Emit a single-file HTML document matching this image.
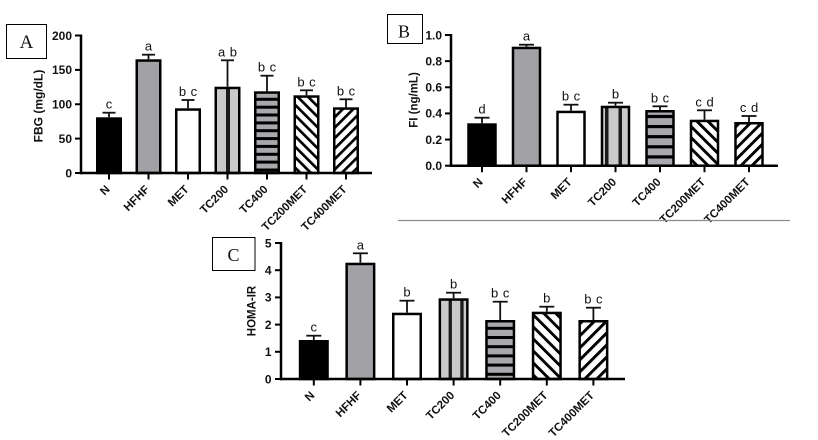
<!DOCTYPE html>
<html>
<head>
<meta charset="utf-8">
<style>
  html, body { margin: 0; padding: 0; background: #ffffff; }
  svg { display: block; }
  text { font-family: "Liberation Sans", Arial, sans-serif; fill: #111; }
  .tk { font-size: 12px; font-weight: bold; text-anchor: end; }
  .xl { font-size: 11.5px; font-weight: bold; text-anchor: end; }
  .yl { font-size: 12px; font-weight: bold; text-anchor: middle; }
  .sig { font-size: 13px; text-anchor: middle; word-spacing: 1px; }
  .box { font-family: "Liberation Serif", "Times New Roman", serif; font-size: 18px; text-anchor: middle; }
  .ax { stroke: #000; stroke-width: 2.5; fill: none; }
  .tc { stroke: #000; stroke-width: 2; }
  .bar { stroke: #000; stroke-width: 2.5; fill: none; }
  .eb { stroke: #111; stroke-width: 1.8; }
</style>
</head>
<body>
<svg width="818" height="440" viewBox="0 0 818 440" xmlns="http://www.w3.org/2000/svg">
  <defs>
    <pattern id="pAbs" patternUnits="userSpaceOnUse" width="7.4" height="10" patternTransform="rotate(-45)">
      <rect x="0" y="0" width="2.7" height="10" fill="#000"/>
    </pattern>
    <pattern id="pAfs" patternUnits="userSpaceOnUse" width="7.4" height="10" patternTransform="rotate(45)">
      <rect x="0" y="0" width="2.7" height="10" fill="#000"/>
    </pattern>
    <pattern id="pBbs" patternUnits="userSpaceOnUse" width="7.8" height="10" patternTransform="rotate(-45)">
      <rect x="0" y="0" width="2.9" height="10" fill="#000"/>
    </pattern>
    <pattern id="pBfs" patternUnits="userSpaceOnUse" width="7.8" height="10" patternTransform="rotate(45)">
      <rect x="0" y="0" width="2.9" height="10" fill="#000"/>
    </pattern>
    <pattern id="pCbs" patternUnits="userSpaceOnUse" width="8.5" height="10" patternTransform="rotate(-45)">
      <rect x="0" y="0" width="2.9" height="10" fill="#000"/>
    </pattern>
    <pattern id="pCfs" patternUnits="userSpaceOnUse" width="8.5" height="10" patternTransform="rotate(45)">
      <rect x="0" y="0" width="2.9" height="10" fill="#000"/>
    </pattern>
  </defs>

  <rect x="0" y="0" width="818" height="440" fill="#fff"/>

  <!-- ================= PANEL A ================= -->
  <rect x="6.5" y="24.5" width="40" height="34" fill="#fff" stroke="#000" stroke-width="1"/>
  <text class="box" x="26.5" y="48" style="font-size:19px">A</text>

  <text class="yl" transform="translate(42.3,106) rotate(-90)">FBG (mg/dL)</text>

  <line class="tc" x1="75" y1="173" x2="81" y2="173"/>
  <line class="tc" x1="75" y1="138.6" x2="81" y2="138.6"/>
  <line class="tc" x1="75" y1="104.25" x2="81" y2="104.25"/>
  <line class="tc" x1="75" y1="69.9" x2="81" y2="69.9"/>
  <line class="tc" x1="75" y1="35.5" x2="81" y2="35.5"/>
  <text class="tk" x="72" y="177.3">0</text>
  <text class="tk" x="72" y="142.9">50</text>
  <text class="tk" x="72" y="108.5">100</text>
  <text class="tk" x="72" y="74.2">150</text>
  <text class="tk" x="72" y="39.8">200</text>

  <rect x="97.25" y="118.55" width="23.5" height="54.45" fill="#000"/>
  <rect class="bar" x="97.25" y="118.55" width="23.5" height="54.45"/>
  <rect x="136.75" y="60.55" width="23.5" height="112.45" fill="#a2a2a6"/>
  <rect class="bar" x="136.75" y="60.55" width="23.5" height="112.45"/>
  <rect x="176.25" y="109.55" width="23.5" height="63.45" fill="#fff"/>
  <rect class="bar" x="176.25" y="109.55" width="23.5" height="63.45"/>
  <rect x="215.75" y="87.95" width="23.5" height="85.05" fill="#cacaca"/>
  <rect x="226" y="87.95" width="4" height="85.05" fill="#1a1a1a"/>
  <rect class="bar" x="215.75" y="87.95" width="23.5" height="85.05"/>
  <rect x="255.25" y="92.55" width="23.5" height="80.45" fill="#a9a9ad"/>
  <g fill="#000">
    <rect x="255.25" y="97.8" width="23.5" height="3"/>
    <rect x="255.25" y="105.7" width="23.5" height="3"/>
    <rect x="255.25" y="113.5" width="23.5" height="3"/>
    <rect x="255.25" y="121.4" width="23.5" height="3"/>
    <rect x="255.25" y="129.2" width="23.5" height="3"/>
    <rect x="255.25" y="137.1" width="23.5" height="3"/>
    <rect x="255.25" y="144.9" width="23.5" height="3"/>
    <rect x="255.25" y="152.8" width="23.5" height="3"/>
    <rect x="255.25" y="160.6" width="23.5" height="3"/>
    <rect x="255.25" y="168.5" width="23.5" height="3"/>
  </g>
  <rect class="bar" x="255.25" y="92.55" width="23.5" height="80.45"/>
  <rect x="294.75" y="96.55" width="23.5" height="76.45" fill="#fff"/>
  <rect x="294.75" y="96.55" width="23.5" height="76.45" fill="url(#pAbs)"/>
  <rect class="bar" x="294.75" y="96.55" width="23.5" height="76.45"/>
  <rect x="334.25" y="108.55" width="23.5" height="64.45" fill="#fff"/>
  <rect x="334.25" y="108.55" width="23.5" height="64.45" fill="url(#pAfs)"/>
  <rect class="bar" x="334.25" y="108.55" width="23.5" height="64.45"/>

  <g class="eb">
    <line x1="109" y1="117.3" x2="109" y2="112.7"/><line x1="102.5" y1="112.7" x2="115.5" y2="112.7"/>
    <line x1="148.5" y1="59.3" x2="148.5" y2="54.7"/><line x1="142" y1="54.7" x2="155" y2="54.7"/>
    <line x1="188" y1="108.3" x2="188" y2="100"/><line x1="181.5" y1="100" x2="194.5" y2="100"/>
    <line x1="227.5" y1="86.7" x2="227.5" y2="60.3"/><line x1="221" y1="60.3" x2="234" y2="60.3"/>
    <line x1="267" y1="91.3" x2="267" y2="75.7"/><line x1="260.5" y1="75.7" x2="273.5" y2="75.7"/>
    <line x1="306.5" y1="95.3" x2="306.5" y2="90.3"/><line x1="300" y1="90.3" x2="313" y2="90.3"/>
    <line x1="346" y1="107.3" x2="346" y2="99.3"/><line x1="339.5" y1="99.3" x2="352.5" y2="99.3"/>
  </g>
  <text class="sig" x="109" y="108.7">c</text>
  <text class="sig" x="148.5" y="50.7">a</text>
  <text class="sig" x="188" y="96">b c</text>
  <text class="sig" x="227.5" y="56.3">a b</text>
  <text class="sig" x="267" y="71.7">b c</text>
  <text class="sig" x="306.5" y="86.3">b c</text>
  <text class="sig" x="346" y="95.3">b c</text>

  <line class="ax" x1="81" y1="34.5" x2="81" y2="174.2"/>
  <line class="ax" x1="79.8" y1="173" x2="372" y2="173"/>
  <g class="tc">
    <line x1="109" y1="173" x2="109" y2="179.5"/>
    <line x1="148.5" y1="173" x2="148.5" y2="179.5"/>
    <line x1="188" y1="173" x2="188" y2="179.5"/>
    <line x1="227.5" y1="173" x2="227.5" y2="179.5"/>
    <line x1="267" y1="173" x2="267" y2="179.5"/>
    <line x1="306.5" y1="173" x2="306.5" y2="179.5"/>
    <line x1="346" y1="173" x2="346" y2="179.5"/>
  </g>
  <text class="xl" transform="rotate(-45 110.5 190)" x="110.5" y="190">N</text>
  <text class="xl" transform="rotate(-45 150 190)" x="150" y="190">HFHF</text>
  <text class="xl" transform="rotate(-45 189.5 190)" x="189.5" y="190">MET</text>
  <text class="xl" transform="rotate(-45 229 190)" x="229" y="190">TC200</text>
  <text class="xl" transform="rotate(-45 268.5 190)" x="268.5" y="190">TC400</text>
  <text class="xl" transform="rotate(-45 308 190)" x="308" y="190">TC200MET</text>
  <text class="xl" transform="rotate(-45 347.5 190)" x="347.5" y="190">TC400MET</text>

  <!-- ================= PANEL B ================= -->
  <rect x="387.5" y="14.5" width="35" height="29" fill="#fff" stroke="#000" stroke-width="1"/>
  <text class="box" x="404" y="37.5">B</text>

  <text class="yl" style="font-size:11.5px" transform="translate(417.3,100) rotate(-90)">FI (ng/mL)</text>

  <line class="tc" x1="445" y1="165.7" x2="451" y2="165.7"/>
  <line class="tc" x1="445" y1="139.56" x2="451" y2="139.56"/>
  <line class="tc" x1="445" y1="113.42" x2="451" y2="113.42"/>
  <line class="tc" x1="445" y1="87.28" x2="451" y2="87.28"/>
  <line class="tc" x1="445" y1="61.14" x2="451" y2="61.14"/>
  <line class="tc" x1="445" y1="35" x2="451" y2="35"/>
  <text class="tk" x="442" y="170">0.0</text>
  <text class="tk" x="442" y="143.9">0.2</text>
  <text class="tk" x="442" y="117.7">0.4</text>
  <text class="tk" x="442" y="91.6">0.6</text>
  <text class="tk" x="442" y="65.4">0.8</text>
  <text class="tk" x="442" y="39.3">1.0</text>

  <rect x="468.5" y="124.55" width="27" height="41.15" fill="#000"/>
  <rect class="bar" x="468.5" y="124.55" width="27" height="41.15"/>
  <rect x="513" y="47.95" width="27" height="117.75" fill="#a2a2a6"/>
  <rect class="bar" x="513" y="47.95" width="27" height="117.75"/>
  <rect x="557.5" y="111.95" width="27" height="53.75" fill="#fff"/>
  <rect class="bar" x="557.5" y="111.95" width="27" height="53.75"/>
  <rect x="602" y="106.95" width="27" height="58.75" fill="#cacaca"/>
  <rect x="605" y="106.95" width="3.5" height="58.75" fill="#1a1a1a"/>
  <rect x="618.5" y="106.95" width="3.5" height="58.75" fill="#1a1a1a"/>
  <rect class="bar" x="602" y="106.95" width="27" height="58.75"/>
  <rect x="646.5" y="111.25" width="27" height="54.45" fill="#a9a9ad"/>
  <g fill="#000">
    <rect x="646.5" y="114.9" width="27" height="3.2"/>
    <rect x="646.5" y="125" width="27" height="3.2"/>
    <rect x="646.5" y="135.1" width="27" height="3.2"/>
    <rect x="646.5" y="145.2" width="27" height="3.2"/>
    <rect x="646.5" y="155.3" width="27" height="3.2"/>
  </g>
  <rect class="bar" x="646.5" y="111.25" width="27" height="54.45"/>
  <rect x="691" y="120.95" width="27" height="44.75" fill="#fff"/>
  <rect x="691" y="120.95" width="27" height="44.75" fill="url(#pBbs)"/>
  <rect class="bar" x="691" y="120.95" width="27" height="44.75"/>
  <rect x="735.5" y="123.25" width="27" height="42.45" fill="#fff"/>
  <rect x="735.5" y="123.25" width="27" height="42.45" fill="url(#pBfs)"/>
  <rect class="bar" x="735.5" y="123.25" width="27" height="42.45"/>

  <g class="eb">
    <line x1="482" y1="123.3" x2="482" y2="117.7"/><line x1="474.5" y1="117.7" x2="489.5" y2="117.7"/>
    <line x1="526.5" y1="46.7" x2="526.5" y2="44.7"/><line x1="519" y1="44.7" x2="534" y2="44.7"/>
    <line x1="571" y1="110.7" x2="571" y2="104.7"/><line x1="563.5" y1="104.7" x2="578.5" y2="104.7"/>
    <line x1="615.5" y1="105.7" x2="615.5" y2="102.7"/><line x1="608" y1="102.7" x2="623" y2="102.7"/>
    <line x1="660" y1="110" x2="660" y2="106.3"/><line x1="652.5" y1="106.3" x2="667.5" y2="106.3"/>
    <line x1="704.5" y1="119.7" x2="704.5" y2="110.3"/><line x1="697" y1="110.3" x2="712" y2="110.3"/>
    <line x1="749" y1="122" x2="749" y2="116"/><line x1="741.5" y1="116" x2="756.5" y2="116"/>
  </g>
  <text class="sig" x="482" y="113.7">d</text>
  <text class="sig" x="526.5" y="40.7">a</text>
  <text class="sig" x="571" y="100.7">b c</text>
  <text class="sig" x="615.5" y="98.7">b</text>
  <text class="sig" x="660" y="102.3">b c</text>
  <text class="sig" x="704.5" y="106.3">c d</text>
  <text class="sig" x="749" y="112">c d</text>

  <line class="ax" x1="451" y1="34" x2="451" y2="166.9"/>
  <line class="ax" x1="449.8" y1="165.7" x2="778" y2="165.7"/>
  <g class="tc">
    <line x1="482" y1="165.7" x2="482" y2="172.2"/>
    <line x1="526.5" y1="165.7" x2="526.5" y2="172.2"/>
    <line x1="571" y1="165.7" x2="571" y2="172.2"/>
    <line x1="615.5" y1="165.7" x2="615.5" y2="172.2"/>
    <line x1="660" y1="165.7" x2="660" y2="172.2"/>
    <line x1="704.5" y1="165.7" x2="704.5" y2="172.2"/>
    <line x1="749" y1="165.7" x2="749" y2="172.2"/>
  </g>
  <text class="xl" transform="rotate(-45 483.5 182.7)" x="483.5" y="182.7">N</text>
  <text class="xl" transform="rotate(-45 528 182.7)" x="528" y="182.7">HFHF</text>
  <text class="xl" transform="rotate(-45 572.5 182.7)" x="572.5" y="182.7">MET</text>
  <text class="xl" transform="rotate(-45 617 182.7)" x="617" y="182.7">TC200</text>
  <text class="xl" transform="rotate(-45 661.5 182.7)" x="661.5" y="182.7">TC400</text>
  <text class="xl" transform="rotate(-45 706 182.7)" x="706" y="182.7">TC200MET</text>
  <text class="xl" transform="rotate(-45 750.5 182.7)" x="750.5" y="182.7">TC400MET</text>

  <line x1="398" y1="220.5" x2="790" y2="220.5" stroke="#8a8a8a" stroke-width="1.3"/>

  <!-- ================= PANEL C ================= -->
  <rect x="212.5" y="237.5" width="42.5" height="33" fill="#fff" stroke="#000" stroke-width="1"/>
  <text class="box" x="233.5" y="261">C</text>

  <text class="yl" style="font-size:11.5px" transform="translate(255.3,311) rotate(-90)">HOMA-IR</text>

  <line class="tc" x1="275" y1="379" x2="281" y2="379"/>
  <line class="tc" x1="275" y1="351.8" x2="281" y2="351.8"/>
  <line class="tc" x1="275" y1="324.6" x2="281" y2="324.6"/>
  <line class="tc" x1="275" y1="297.4" x2="281" y2="297.4"/>
  <line class="tc" x1="275" y1="270.2" x2="281" y2="270.2"/>
  <line class="tc" x1="275" y1="243" x2="281" y2="243"/>
  <text class="tk" x="271.5" y="383.3">0</text>
  <text class="tk" x="271.5" y="356.1">1</text>
  <text class="tk" x="271.5" y="328.9">2</text>
  <text class="tk" x="271.5" y="301.7">3</text>
  <text class="tk" x="271.5" y="274.5">4</text>
  <text class="tk" x="271.5" y="247.3">5</text>

  <rect x="300.05" y="341.25" width="27.5" height="37.75" fill="#000"/>
  <rect class="bar" x="300.05" y="341.25" width="27.5" height="37.75"/>
  <rect x="346.65" y="263.95" width="27.5" height="115.05" fill="#a2a2a6"/>
  <rect class="bar" x="346.65" y="263.95" width="27.5" height="115.05"/>
  <rect x="393.25" y="313.95" width="27.5" height="65.05" fill="#fff"/>
  <rect class="bar" x="393.25" y="313.95" width="27.5" height="65.05"/>
  <rect x="439.85" y="299.55" width="27.5" height="79.45" fill="#cacaca"/>
  <rect x="448.6" y="299.55" width="3.3" height="79.45" fill="#1a1a1a"/>
  <rect x="460.3" y="299.55" width="3.3" height="79.45" fill="#1a1a1a"/>
  <rect class="bar" x="439.85" y="299.55" width="27.5" height="79.45"/>
  <rect x="486.45" y="321.25" width="27.5" height="57.75" fill="#a9a9ad"/>
  <g fill="#000">
    <rect x="486.45" y="326.8" width="27.5" height="3"/>
    <rect x="486.45" y="336" width="27.5" height="3"/>
    <rect x="486.45" y="345.2" width="27.5" height="3"/>
    <rect x="486.45" y="354.4" width="27.5" height="3"/>
    <rect x="486.45" y="363.6" width="27.5" height="3"/>
    <rect x="486.45" y="372.8" width="27.5" height="3"/>
  </g>
  <rect class="bar" x="486.45" y="321.25" width="27.5" height="57.75"/>
  <rect x="533.05" y="312.95" width="27.5" height="66.05" fill="#fff"/>
  <rect x="533.05" y="312.95" width="27.5" height="66.05" fill="url(#pCbs)"/>
  <rect class="bar" x="533.05" y="312.95" width="27.5" height="66.05"/>
  <rect x="579.65" y="321.25" width="27.5" height="57.75" fill="#fff"/>
  <rect x="579.65" y="321.25" width="27.5" height="57.75" fill="url(#pCfs)"/>
  <rect class="bar" x="579.65" y="321.25" width="27.5" height="57.75"/>

  <g class="eb">
    <line x1="313.8" y1="340" x2="313.8" y2="335.7"/><line x1="306.3" y1="335.7" x2="321.3" y2="335.7"/>
    <line x1="360.4" y1="262.7" x2="360.4" y2="253.3"/><line x1="352.9" y1="253.3" x2="367.9" y2="253.3"/>
    <line x1="407" y1="312.7" x2="407" y2="300.7"/><line x1="399.5" y1="300.7" x2="414.5" y2="300.7"/>
    <line x1="453.6" y1="298.3" x2="453.6" y2="292.7"/><line x1="446.1" y1="292.7" x2="461.1" y2="292.7"/>
    <line x1="500.2" y1="320" x2="500.2" y2="301.7"/><line x1="492.7" y1="301.7" x2="507.7" y2="301.7"/>
    <line x1="546.8" y1="311.7" x2="546.8" y2="306.7"/><line x1="539.3" y1="306.7" x2="554.3" y2="306.7"/>
    <line x1="593.4" y1="320" x2="593.4" y2="307.7"/><line x1="585.9" y1="307.7" x2="600.9" y2="307.7"/>
  </g>
  <text class="sig" x="313.8" y="331.7">c</text>
  <text class="sig" x="360.4" y="249.3">a</text>
  <text class="sig" x="407" y="296.7">b</text>
  <text class="sig" x="453.6" y="288.7">b</text>
  <text class="sig" x="500.2" y="297.7">b c</text>
  <text class="sig" x="546.8" y="302.7">b</text>
  <text class="sig" x="593.4" y="303.7">b c</text>

  <line class="ax" x1="281" y1="242" x2="281" y2="380.2"/>
  <line class="ax" x1="279.8" y1="379" x2="625" y2="379"/>
  <g class="tc">
    <line x1="313.8" y1="379" x2="313.8" y2="385.5"/>
    <line x1="360.4" y1="379" x2="360.4" y2="385.5"/>
    <line x1="407" y1="379" x2="407" y2="385.5"/>
    <line x1="453.6" y1="379" x2="453.6" y2="385.5"/>
    <line x1="500.2" y1="379" x2="500.2" y2="385.5"/>
    <line x1="546.8" y1="379" x2="546.8" y2="385.5"/>
    <line x1="593.4" y1="379" x2="593.4" y2="385.5"/>
  </g>
  <text class="xl" transform="rotate(-45 315.3 396)" x="315.3" y="396">N</text>
  <text class="xl" transform="rotate(-45 361.9 396)" x="361.9" y="396">HFHF</text>
  <text class="xl" transform="rotate(-45 408.5 396)" x="408.5" y="396">MET</text>
  <text class="xl" transform="rotate(-45 455.1 396)" x="455.1" y="396">TC200</text>
  <text class="xl" transform="rotate(-45 501.7 396)" x="501.7" y="396">TC400</text>
  <text class="xl" transform="rotate(-45 548.3 396)" x="548.3" y="396">TC200MET</text>
  <text class="xl" transform="rotate(-45 594.9 396)" x="594.9" y="396">TC400MET</text>
</svg>
</body>
</html>
